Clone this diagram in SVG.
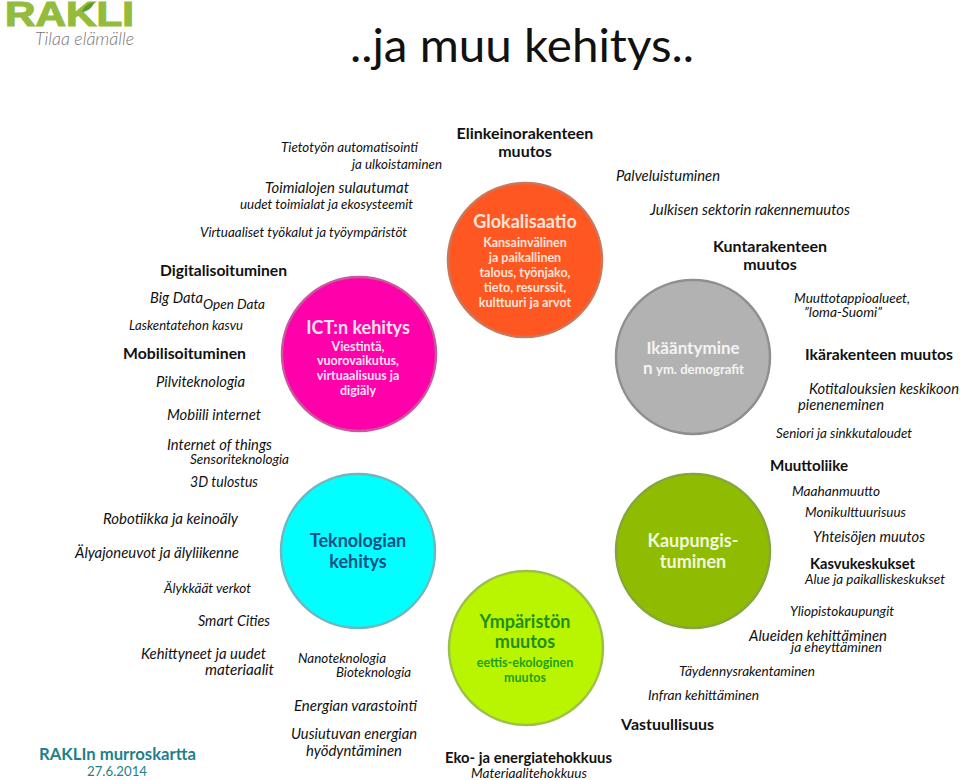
<svg xmlns="http://www.w3.org/2000/svg" width="960" height="780" viewBox="0 0 960 780">
<style>
text{font-family:"Lato","Liberation Sans",sans-serif;fill:#111}
.i{font-style:italic;font-size:15px}
.m{font-style:italic;font-size:14px}
.b{font-weight:700;font-size:16px}
.c{text-anchor:middle;font-weight:700}
.h{font-size:18px}
.s{font-size:12.5px}
circle{stroke-width:2.5}
</style>
<rect width="960" height="780" fill="#fff"/>
<g id="logo">
<text x="5" y="26" font-size="35" font-weight="700" style="fill:#93bc3c;stroke:#93bc3c;stroke-width:1.2;font-family:'Liberation Sans',sans-serif" textLength="129" lengthAdjust="spacingAndGlyphs">RAKLI</text>
<path d="M82 12C84 6 88 3 94 2C93 7 89 11 82 12Z" fill="#5e9a32"/>
<text x="35" y="45" font-size="17" font-style="italic" font-weight="300" style="fill:#777" textLength="99" lengthAdjust="spacingAndGlyphs">Tilaa elämälle</text>
</g>
<g id="title"><text x="350" y="62" font-size="47" style="fill:#111" textLength="344" lengthAdjust="spacingAndGlyphs">..ja muu kehitys..</text></g>
<g id="glokalisaatio">
<circle cx="525" cy="260" r="77" fill="#ff5722" stroke="#c9785c"/>
<text class="c h" x="525" y="228" style="fill:#fde3d8">Glokalisaatio</text>
<text class="c s" x="525" y="247" style="fill:#fde3d8">Kansainvälinen</text>
<text class="c s" x="525" y="262" style="fill:#fde3d8">ja paikallinen</text>
<text class="c s" x="525" y="277" style="fill:#fde3d8">talous, työnjako,</text>
<text class="c s" x="525" y="292" style="fill:#fde3d8">tieto, resurssit,</text>
<text class="c s" x="525" y="307" style="fill:#fde3d8">kulttuuri ja arvot</text>
</g>
<g id="ict">
<circle cx="359" cy="354" r="77" fill="#ff00aa" stroke="#c85a9c"/>
<text class="c h" x="358" y="334" style="fill:#fbe3f2">ICT:n kehitys</text>
<text class="c s" x="358" y="351" style="fill:#fbe3f2">Viestintä,</text>
<text class="c s" x="358" y="365" style="fill:#fbe3f2">vuorovaikutus,</text>
<text class="c s" x="358" y="380" style="fill:#fbe3f2">virtuaalisuus ja</text>
<text class="c s" x="358" y="395" style="fill:#fbe3f2">digiäly</text>
</g>
<g id="teknologia">
<circle cx="358" cy="551" r="77" fill="#00ffff" stroke="#6fb7c0"/>
<text class="c h" x="358" y="547" style="fill:#0b4f86">Teknologian</text>
<text class="c h" x="358" y="568" style="fill:#0b4f86">kehitys</text>
</g>
<g id="ymparisto">
<circle cx="526" cy="648" r="77" fill="#b9f500" stroke="#9cc04a"/>
<text class="c h" x="525" y="628" style="fill:#1f8f1f">Ympäristön</text>
<text class="c h" x="525" y="648" style="fill:#1f8f1f">muutos</text>
<text class="c s" x="525" y="667" style="fill:#1f9f1f">eettis-ekologinen</text>
<text class="c s" x="525" y="682" style="fill:#1f9f1f">muutos</text>
</g>
<g id="ikaantyminen">
<circle cx="693" cy="357" r="77" fill="#b2b2b2" stroke="#8f8f8f"/>
<text class="c" font-size="17" x="693" y="354" style="fill:#f4f4f4">Ikääntymine</text>
<text x="643" y="374" font-size="17" font-weight="700" style="fill:#f4f4f4">n</text>
<text x="656" y="374" font-size="13" font-weight="700" style="fill:#f4f4f4" textLength="88" lengthAdjust="spacingAndGlyphs">ym. demografit</text>
</g>
<g id="kaupungistuminen">
<circle cx="693" cy="551" r="77" fill="#8fbc00" stroke="#83a73a"/>
<text class="c h" x="693" y="547" style="fill:#f2f8dc">Kaupungis-</text>
<text class="c h" x="693" y="568" style="fill:#f2f8dc">tuminen</text>
</g>
<g id="labels-left" lengthAdjust="spacingAndGlyphs">
<text class="m" x="281" y="152" textLength="137" lengthAdjust="spacingAndGlyphs">Tietotyön automatisointi</text>
<text class="m" x="352" y="169" textLength="90" lengthAdjust="spacingAndGlyphs">ja ulkoistaminen</text>
<text class="i" x="265" y="193" textLength="144" lengthAdjust="spacingAndGlyphs">Toimialojen sulautumat</text>
<text class="m" x="240" y="209" textLength="173" lengthAdjust="spacingAndGlyphs">uudet toimialat ja ekosysteemit</text>
<text class="m" x="200" y="237" textLength="207" lengthAdjust="spacingAndGlyphs">Virtuaaliset työkalut ja työympäristöt</text>
<text class="b" x="160" y="276" textLength="127" lengthAdjust="spacingAndGlyphs">Digitalisoituminen</text>
<text class="i" x="150" y="303" textLength="53" lengthAdjust="spacingAndGlyphs">Big Data</text>
<text class="m" x="203" y="309" textLength="62" lengthAdjust="spacingAndGlyphs">Open Data</text>
<text class="m" x="129" y="330" textLength="114" lengthAdjust="spacingAndGlyphs">Laskentatehon kasvu</text>
<text class="b" x="123" y="359" textLength="123" lengthAdjust="spacingAndGlyphs">Mobilisoituminen</text>
<text class="i" x="156" y="387" textLength="89" lengthAdjust="spacingAndGlyphs">Pilviteknologia</text>
<text class="i" x="167" y="420" textLength="94" lengthAdjust="spacingAndGlyphs">Mobiili internet</text>
<text class="i" x="167" y="450" textLength="105" lengthAdjust="spacingAndGlyphs">Internet of things</text>
<text class="m" x="190" y="464" textLength="99" lengthAdjust="spacingAndGlyphs">Sensoriteknologia</text>
<text class="i" x="190" y="487" textLength="68" lengthAdjust="spacingAndGlyphs">3D tulostus</text>
<text class="i" x="103" y="524" textLength="135" lengthAdjust="spacingAndGlyphs">Robotiikka ja keinoäly</text>
<text class="i" x="75" y="558" textLength="164" lengthAdjust="spacingAndGlyphs">Älyajoneuvot ja älyliikenne</text>
<text class="m" x="164" y="593" textLength="87" lengthAdjust="spacingAndGlyphs">Älykkäät verkot</text>
<text class="i" x="198" y="626" textLength="72" lengthAdjust="spacingAndGlyphs">Smart Cities</text>
<text class="i" x="141" y="659" textLength="125" lengthAdjust="spacingAndGlyphs">Kehittyneet ja uudet</text>
<text class="i" x="205" y="675" textLength="69" lengthAdjust="spacingAndGlyphs">materiaalit</text>
<text class="m" x="298" y="663" textLength="88" lengthAdjust="spacingAndGlyphs">Nanoteknologia</text>
<text class="m" x="336" y="677" textLength="75" lengthAdjust="spacingAndGlyphs">Bioteknologia</text>
<text class="i" x="294" y="711" textLength="123" lengthAdjust="spacingAndGlyphs">Energian varastointi</text>
<text class="i" x="291" y="739" textLength="126" lengthAdjust="spacingAndGlyphs">Uusiutuvan energian</text>
<text class="i" x="306" y="756" textLength="96" lengthAdjust="spacingAndGlyphs">hyödyntäminen</text>
<text x="39" y="760" font-size="17" font-weight="700" style="fill:#1f7f8c" textLength="157" lengthAdjust="spacingAndGlyphs">RAKLIn murroskartta</text>
<text x="87" y="776" font-size="13" style="fill:#1f7f8c" textLength="60" lengthAdjust="spacingAndGlyphs">27.6.2014</text>
</g>
<g id="labels-top">
<text class="c b" x="525" y="139">Elinkeinorakenteen</text>
<text class="c b" x="525" y="157">muutos</text>
</g>
<g id="labels-right">
<text class="i" x="616" y="181" textLength="104" lengthAdjust="spacingAndGlyphs">Palveluistuminen</text>
<text class="i" x="650" y="215" textLength="200" lengthAdjust="spacingAndGlyphs">Julkisen sektorin rakennemuutos</text>
<text class="c b" x="770" y="252">Kuntarakenteen</text>
<text class="c b" x="770" y="270">muutos</text>
<text class="m" x="794" y="303" textLength="116" lengthAdjust="spacingAndGlyphs">Muuttotappioalueet,</text>
<text class="m" x="804" y="317" textLength="78" lengthAdjust="spacingAndGlyphs">”loma-Suomi”</text>
<text class="b" x="805" y="360" textLength="148" lengthAdjust="spacingAndGlyphs">Ikärakenteen muutos</text>
<text class="i" x="809" y="394" textLength="150" lengthAdjust="spacingAndGlyphs">Kotitalouksien keskikoon</text>
<text class="i" x="798" y="410" textLength="86" lengthAdjust="spacingAndGlyphs">pieneneminen</text>
<text class="m" x="776" y="438" textLength="136" lengthAdjust="spacingAndGlyphs">Seniori ja sinkkutaloudet</text>
<text class="b" x="770" y="471" textLength="78" lengthAdjust="spacingAndGlyphs">Muuttoliike</text>
<text class="m" x="792" y="496" textLength="88" lengthAdjust="spacingAndGlyphs">Maahanmuutto</text>
<text class="m" x="805" y="517" textLength="101" lengthAdjust="spacingAndGlyphs">Monikulttuurisuus</text>
<text class="i" x="813" y="542" textLength="112" lengthAdjust="spacingAndGlyphs">Yhteisöjen muutos</text>
<text class="b" x="810" y="569" textLength="105" lengthAdjust="spacingAndGlyphs">Kasvukeskukset</text>
<text class="m" x="805" y="584" textLength="140" lengthAdjust="spacingAndGlyphs">Alue ja paikalliskeskukset</text>
<text class="m" x="790" y="616" textLength="104" lengthAdjust="spacingAndGlyphs">Yliopistokaupungit</text>
<text class="i" x="749" y="641" textLength="138" lengthAdjust="spacingAndGlyphs">Alueiden kehittäminen</text>
<text class="m" x="791" y="652" textLength="91" lengthAdjust="spacingAndGlyphs">ja eheyttäminen</text>
<text class="m" x="679" y="676" textLength="136" lengthAdjust="spacingAndGlyphs">Täydennysrakentaminen</text>
<text class="m" x="648" y="700" textLength="111" lengthAdjust="spacingAndGlyphs">Infran kehittäminen</text>
<text class="b" x="621" y="730" textLength="93" lengthAdjust="spacingAndGlyphs">Vastuullisuus</text>
<text class="b" x="445" y="763" textLength="167" lengthAdjust="spacingAndGlyphs">Eko- ja energiatehokkuus</text>
<text class="m" x="471" y="778" textLength="116" lengthAdjust="spacingAndGlyphs">Materiaalitehokkuus</text>
</g>
</svg>
